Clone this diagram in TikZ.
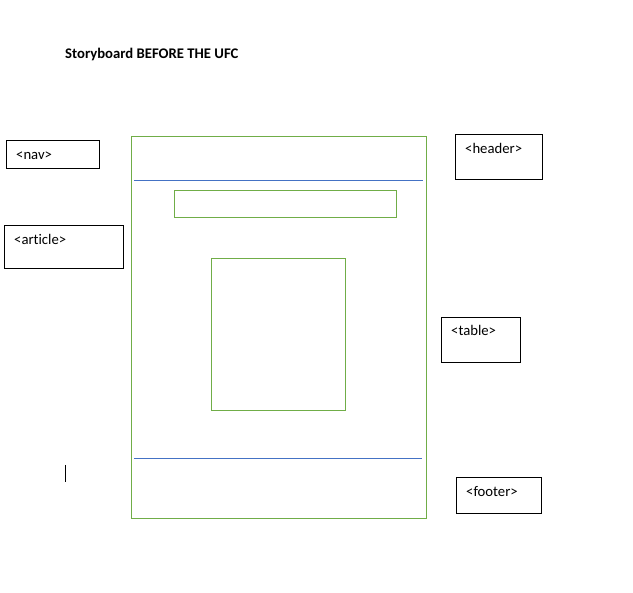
\documentclass[tikz,border=0pt]{standalone}
\usepackage{fontspec}
\setmainfont[Ligatures=NoCommon]{Carlito}
\definecolor{grn}{HTML}{70AD47}
\definecolor{blu}{HTML}{4472C4}
\begin{document}
\begin{tikzpicture}[x=1pt,y=-1pt,
  tagbox/.style={draw=black, line width=1pt, inner sep=0pt, rectangle},
  tagtext/.style={anchor=base west, inner sep=0pt, font=\fontsize{14.7}{16}\selectfont},
  greenbox/.style={draw=grn, line width=1pt, inner sep=0pt, rectangle},
  blueline/.style={draw=blu, line width=1.2pt}]
\useasboundingbox (0,0) rectangle (633,593);
\node[anchor=base west, inner sep=0pt, font=\fontsize{14.7}{16}\selectfont\bfseries] (title) at (65,59) {Storyboard BEFORE THE UFC};
% tag boxes
\node[tagbox, minimum width=93pt, minimum height=28pt, anchor=north west] (nav) at (6,140) {};
\node[tagtext] (navt) at (16,160) {<nav>};
\node[tagbox, minimum width=119pt, minimum height=43pt, anchor=north west] (article) at (4,225) {};
\node[tagtext] (articlet) at (14,245) {<article>};
\node[tagbox, minimum width=87pt, minimum height=45pt, anchor=north west] (header) at (455,134) {};
\node[tagtext] (headert) at (465,154) {<header>};
\node[tagbox, minimum width=79pt, minimum height=45pt, anchor=north west] (table) at (441,317) {};
\node[tagtext] (tablet) at (451,336) {<table>};
\node[tagbox, minimum width=85pt, minimum height=36pt, anchor=north west] (footer) at (456,477) {};
\node[tagtext] (footert) at (466,497) {<footer>};
% page frame
\node[greenbox, minimum width=295pt, minimum height=382pt, anchor=north west] (page) at (131,136) {};
\coordinate (b1a) at (134,180.5); \coordinate (b1b) at (423,180.5);
\draw[blueline] (b1a) -- (b1b);
\node[greenbox, minimum width=222pt, minimum height=27pt, anchor=north west] (banner) at (174,190) {};
\node[greenbox, minimum width=134pt, minimum height=152pt, anchor=north west] (content) at (211,258) {};
\coordinate (b2a) at (134,458.5); \coordinate (b2b) at (422,458.5);
\draw[blueline] (b2a) -- (b2b);
\coordinate (cura) at (65,465); \coordinate (curb) at (65,482);
\draw[line width=1pt] (cura) -- (curb);
\end{tikzpicture}
\end{document}
